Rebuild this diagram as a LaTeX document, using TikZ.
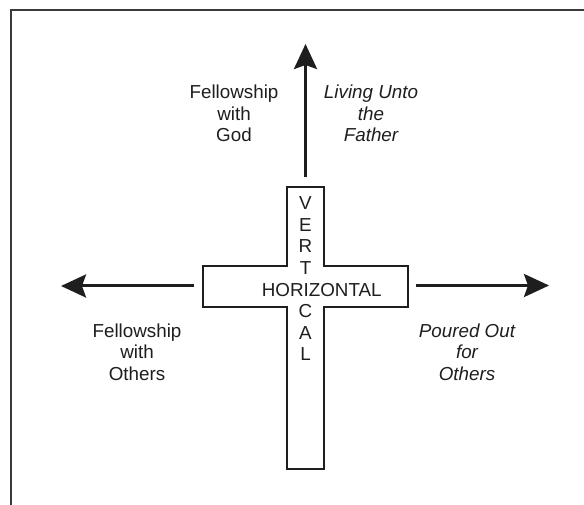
\documentclass[tikz,border=0pt]{standalone}
\usepackage{fontspec}
\setmainfont{Liberation Sans}
\usetikzlibrary{arrows.meta}
\definecolor{ink}{HTML}{1E1E1E}
\definecolor{framegray}{HTML}{3A3A3A}
\begin{document}
\begin{tikzpicture}[x=1pt,y=-1pt,
  lbl/.style={font=\fontsize{18.8}{21.6}\selectfont, align=center, inner sep=0pt, text=ink},
  crossline/.style={draw=ink, line width=2pt, line join=miter, fill=white},
  bigarrow/.style={draw=ink, line width=3pt, -{Stealth[length=25pt,width=23pt,inset=4pt]}},
  framestyle/.style={draw=framegray, line width=2pt}]
\useasboundingbox (0,0) rectangle (584,505);
\fill[white] (0,0) rectangle (584,505);
% frame
\coordinate (fcorner) at (11,10);
\coordinate (fright) at (584,10);
\coordinate (fbottom) at (11,505);
\draw[framestyle] (fright) -- (fcorner) -- (fbottom);
% cross
\draw[crossline] (287,187) -- (324,187) -- (324,266) -- (408,266) -- (408,307) -- (324,307)
  -- (324,469) -- (287,469) -- (287,307) -- (203,307) -- (203,266) -- (287,266) -- cycle;
\node[lbl, anchor=north] (vert) at (305.5,196.3) {V\\E\\R\\T\\\phantom{I}\\C\\A\\L};
\node[lbl] (horiz) at (321.7,290) {HORIZONTAL};
% arrows
\coordinate (upfoot) at (305.5,177);
\coordinate (uptip) at (305.5,44);
\coordinate (leftfoot) at (194,286);
\coordinate (lefttip) at (61,286);
\coordinate (rightfoot) at (416,285.5);
\coordinate (righttip) at (549,285.5);
\draw[bigarrow] (upfoot) -- (uptip);
\draw[bigarrow] (leftfoot) -- (lefttip);
\draw[bigarrow] (rightfoot) -- (righttip);
% labels
\node[lbl] (god) at (234,113.5) {Fellowship\\with\\God};
\node[lbl, font=\fontsize{18.8}{21.6}\selectfont\itshape] (father) at (371,113.5) {Living Unto\\the\\Father};
\node[lbl] (others) at (137,352) {Fellowship\\with\\Others};
\node[lbl, font=\fontsize{18.8}{21.6}\selectfont\itshape] (poured) at (467,352) {Poured Out\\for\\Others};
\end{tikzpicture}
\end{document}
